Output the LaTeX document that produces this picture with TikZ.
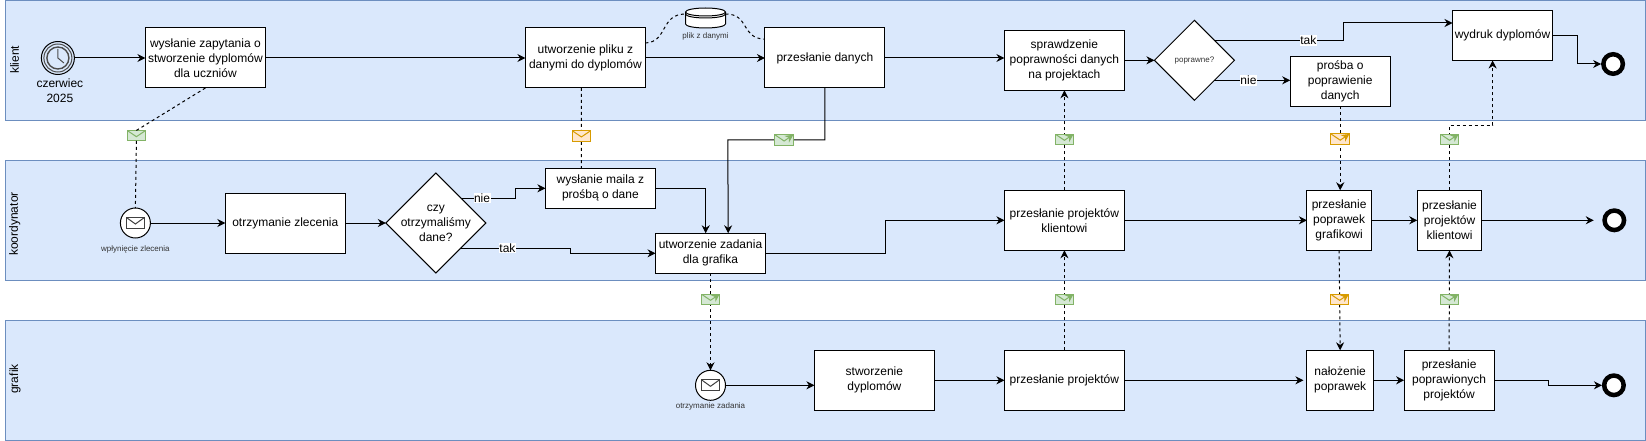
\documentclass[tikz,border=0pt]{standalone}
\usepackage{fontspec}
\setmainfont{Liberation Sans}
\usetikzlibrary{positioning,shapes.geometric,arrows.meta}

\definecolor{lanefill}{HTML}{DAE8FC}
\definecolor{laneline}{HTML}{6C8EBF}
\definecolor{msggreen}{HTML}{82B366}
\definecolor{msggreenfill}{HTML}{D5E8D4}
\definecolor{msgorange}{HTML}{D79B00}
\definecolor{msgorangefill}{HTML}{FFE6CC}

\begin{document}
\begin{tikzpicture}[x=1pt, y=-1pt,
	line width=1pt,
	>={Stealth[length=8pt,width=8pt]},
	every node/.style={font=\fontsize{12}{15}\selectfont, align=center, inner sep=0pt, outer sep=0pt},
	lane/.style={rectangle, draw=laneline, fill=lanefill, minimum width=1640pt, minimum height=120pt},
	lanename/.style={rotate=90},
	task/.style={rectangle, draw, fill=white, minimum width=#1, minimum height=60pt},
	task/.default=120pt,
	gateway/.style={diamond, draw, fill=white, aspect=1, minimum size=#1},
	endevent/.style={circle, draw, fill=white, line width=4.5pt, minimum size=19.5pt, outer sep=2.25pt},
	msgevent/.style={circle, draw, fill=white, minimum size=30pt,
		path picture={
			\coordinate (c) at (path picture bounding box.center);
			\draw[line width=1.2pt, draw=black!75] ([shift={(-9pt,-5.5pt)}]c) rectangle ([shift={(9pt,5.5pt)}]c);
			\draw[line width=1pt, draw=black!75] ([shift={(-9pt,5.5pt)}]c) -- ([yshift=-1pt]c) -- ([shift={(9pt,5.5pt)}]c);
		}},
	envelope/.style={rectangle, solid, draw=#1, minimum width=18.5pt, minimum height=10.5pt,
		path picture={
			\draw[#1, solid] (path picture bounding box.north west) -- ([yshift=-1pt]path picture bounding box.center) -- (path picture bounding box.north east);
		}},
	greenmsg/.style={envelope=msggreen, fill=msggreenfill},
	orangemsg/.style={envelope=msgorange, fill=msgorangefill},
	small/.style={font=\fontsize{8}{10}\selectfont, text=black!80},
	edgename/.style={fill=white, solid, inner xsep=0.5pt, inner ysep=1pt},
	flow/.style={draw, ->},
	msgflow/.style={draw, dash pattern=on 3pt off 3pt}
]
	\useasboundingbox (0,0) rectangle (1646,441);

	% Lanes
	\node[lane] (klient) at (825.3,60.4) {};
	\node[lane, below=40pt of klient] (koordynator) {};
	\node[lane, below=40pt of koordynator] (grafik) {};
	\node[lanename] (klientname) at (14.7,59.7) {klient};
	\node[lanename] (koordynatorname) at (14.7,224) {koordynator};
	\node[lanename] (grafikname) at (15,379) {grafik};

	% Lane: klient
	\node[task] (zapytanie) at (205.4,58) {wysłanie zapytania o\\stworzenie dyplomów\\dla uczniów};
	\node[circle, draw, minimum size=33pt, left=71pt of zapytanie] (timer) {};
	\node[below=4pt of timer, xshift=2pt] (timername) {czerwiec\\2025};
	\node[task, right=260pt of zapytanie] (plik) {utworzenie pliku z\\danymi do dyplomów};
	\node[task, right=119.5pt of plik] (dane) {przesłanie danych};
	\node[rectangle, minimum width=40pt, minimum height=20pt] (store) at (705.5,18) {};
	\node[small, below=4.5pt of store] (storename) {plik z danymi};
	\node[task, right=119.5pt of dane, yshift=-2.3pt] (sprawdzenie) {sprawdzenie\\poprawności danych\\na projektach};
	\node[gateway=80pt, right=30pt of sprawdzenie] (poprawne) {};
	\node[small] (poprawnename) at (poprawne) {poprawne?};
	\node[task=100pt, minimum height=50pt, right=55.8pt of poprawne, yshift=-21.2pt] (prosba) {prośba o\\poprawienie\\danych};
	\node[task=100pt, minimum height=50pt, right=62.3pt of prosba, yshift=46pt] (wydruk) {wydruk dyplomów};
	\node[endevent, right=48.6pt of wydruk, yshift=-28.5pt] (enda) {};

	% Lane: koordynator
	\node[task] (otrzymanie) at (285.3,223) {otrzymanie zlecenia};
	\node[msgevent, left=74.9pt of otrzymanie] (wplyniecie) {};
	\node[small, below=8pt of wplyniecie] (wplyniecie name) {wpłynięcie zlecenia};
	\node[gateway=100pt, right=40.5pt of otrzymanie] (czy) {};
	\node (czyname) at (czy) {czy\\otrzymaliśmy\\dane?};
	\node[task=110pt, minimum height=40pt, right=59.6pt of czy, yshift=34.7pt] (maila) {wysłanie maila z\\prośbą o dane};
	\node[task=110pt, minimum height=40pt, right=169.7pt of czy, yshift=-30.3pt] (zadanie) {utworzenie zadania\\dla grafika};
	\node[task, below=100pt of sprawdzenie] (klientowi) {przesłanie projektów\\klientowi};
	\node[task=64.4pt, right=182.5pt of klientowi] (poprawek) {przesłanie\\poprawek\\grafikowi};
	\node[task=64.4pt, right=46pt of poprawek] (klientowibis) {przesłanie\\projektów\\klientowi};
	\node[endevent, right=120.6pt of klientowibis] (endb) {};
	\coordinate[left=8.5pt of endb] (endbin);

	% Lane: grafik
	\node[task, below=100pt of klientowi] (projekty) {przesłanie projektów};
	\node[task, left=70pt of projekty] (stworzenie) {stworzenie\\dyplomów};
	\node[msgevent, below=97pt of zadanie] (zadanieevent) {};
	\node[small, below=2pt of zadanieevent] (zadanieeventname) {otrzymanie zadania};
	\node[task=66.5pt, right=182.5pt of projekty] (nalozenie) {nałożenie\\poprawek};
	\node[task=90pt, right=30.7pt of nalozenie] (poprawione) {przesłanie\\poprawionych\\projektów};
	\node[endevent, right=107.8pt of poprawione, yshift=-5pt] (endc) {};

	% Timer icon
	\draw[draw=black!70] (timer.center) circle[radius=14pt];
	\draw[draw=black!70, line width=1.4pt] (timer.center) circle[radius=11pt];
	\draw[draw=black!70] ([yshift=9pt]timer.center) -- (timer.center) -- ([shift={(6pt,-5pt)}]timer.center);

	% Data store
	\draw[fill=white] ([yshift=-4pt]store.north west) arc[start angle=180, end angle=0, x radius=20pt, y radius=4pt] -- ([yshift=4pt]store.south east) arc[start angle=0, end angle=-180, x radius=20pt, y radius=4pt] -- cycle;
	\draw ([yshift=-4pt]store.north west) arc[start angle=180, end angle=360, x radius=20pt, y radius=4pt];
	\draw ([yshift=-6pt]store.north west) arc[start angle=180, end angle=360, x radius=20pt, y radius=4pt];
	\draw[msgflow] ([yshift=15pt]plik.east) .. controls (668,42) and (660,14) .. ([yshift=4pt]store.west);
	\draw[msgflow] ([yshift=4pt]store.east) .. controls (750,14) and (740,38) .. ([yshift=18.7pt]dane.west);

	% Sequence flows
	\draw[flow] (timer.east) -- (zapytanie.west);
	\draw[flow] (zapytanie.east) -- (plik.west);
	\draw[flow] (plik.east) -- (dane.west);
	\draw[flow] (dane.east) -- (dane.east -| sprawdzenie.west);
	\draw[flow] (sprawdzenie.east) -- (poprawne.west);
	\draw[flow] (poprawne.north east) -- node[edgename, pos=0.728] {tak} ++(129,0) |- ([yshift=12.5pt]wydruk.west);
	\draw[flow] (poprawne.south east) -- node[edgename, pos=0.449] {nie} (poprawne.south east -| prosba.west);
	\draw[flow] (wydruk.east) -- ++(25,0) |- (enda.west);

	\draw[flow] (wplyniecie.east) -- (otrzymanie.west);
	\draw[flow] (otrzymanie.east) -- (czy.west);
	\draw[flow] (czy.north east) -- node[edgename, pos=0.39] {nie} ++(54.5,0) |- (maila.west);
	\draw[flow] (czy.south east) -- node[edgename, pos=0.426] {tak} ++(109.5,0) |- (zadanie.west);
	\draw[flow] (maila.east) -| ([xshift=-4.8pt]zadanie.north);
	\draw[flow] (zadanie.east) -- ++(120,0) |- (klientowi.west);
	\draw[flow] (klientowi.east) -- (poprawek.west);
	\draw[flow] (poprawek.east) -- (klientowibis.west);
	\draw[flow] (klientowibis.east) -- (endbin);

	\draw[flow] (zadanieevent.east) -- (zadanieevent.east -| stworzenie.west);
	\draw[flow] (stworzenie.east) -- (projekty.west);
	\draw[flow] (projekty.east) -- ([xshift=-3.5pt]nalozenie.west);
	\draw[flow] (nalozenie.east) -- (poprawione.west);
	\draw[flow] (poprawione.east) -- ++(54.7,0) |- (endc.west);

	% Message flows
	\node[greenmsg] (msga) at (136.4,135.7) {};
	\draw[msgflow] (zapytanie.south) -- (msga.north);
	\draw[msgflow] (msga.south) -- (wplyniecie.north);
	\draw[msgflow] ([xshift=-4pt]plik.south) -- node[orangemsg, pos=0.597] (msgb) {} ([xshift=-19pt]maila.north);
	\draw[flow] (dane.south) -- ++(0,52) -- node[greenmsg, pos=0.42] (msgc) {} ++(-97.1,0) -- ([xshift=17.7pt]zadanie.north);
	\draw[msgflow, ->] (klientowi.north) -- node[greenmsg, pos=0.51] (msgd) {} (sprawdzenie.south);
	\draw[msgflow, ->] (zadanie.south) -- node[greenmsg, pos=0.268] (msge) {} (zadanieevent.north);
	\draw[msgflow, ->] (projekty.north) -- node[greenmsg, pos=0.51] (msgf) {} (klientowi.south);
	\draw[msgflow, ->] (prosba.south) -- node[orangemsg, pos=0.39] (msgg) {} (prosba.south |- poprawek.north);
	\draw[msgflow, ->] (klientowibis.north) -- node[greenmsg, pos=0.785] (msgh) {} ++(0,-65) -| ([xshift=-9.9pt]wydruk.south);
	\draw[msgflow, ->] (poprawek.south) -- node[orangemsg, pos=0.49] (msgi) {} (nalozenie.north);
	\draw[msgflow, ->] (poprawione.north) -- node[greenmsg, pos=0.51] (msgj) {} (klientowibis.south);

\end{tikzpicture}
\end{document}
